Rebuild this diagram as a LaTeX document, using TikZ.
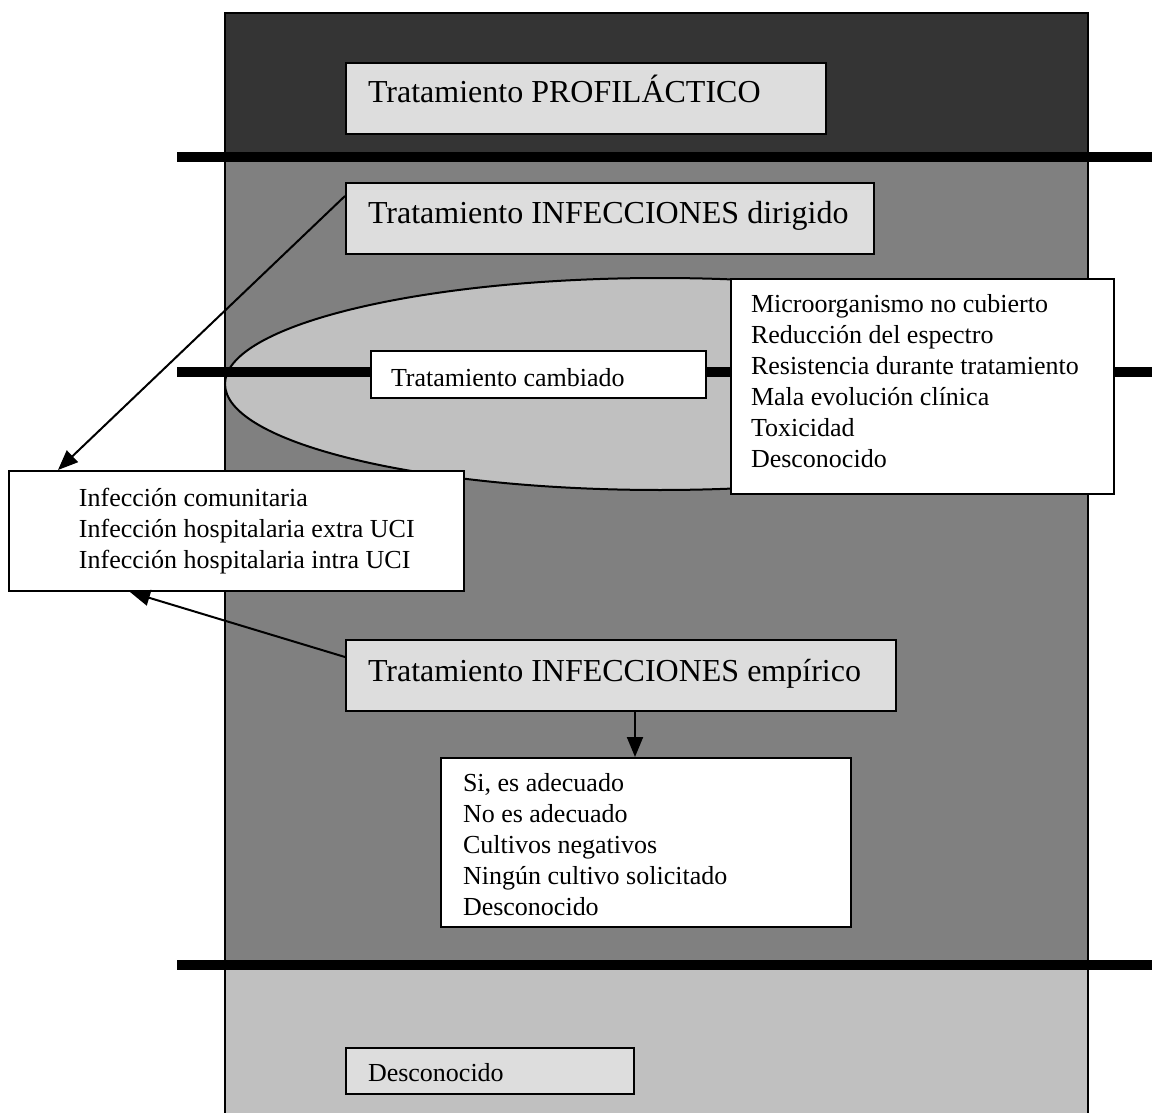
\documentclass[tikz,border=0pt]{standalone}
\usepackage{fontspec}
\setmainfont{Liberation Serif}
\usetikzlibrary{arrows.meta}

\definecolor{bandaosc}{HTML}{343434}
\definecolor{bandamed}{HTML}{808080}
\definecolor{bandacla}{HTML}{C0C0C0}
\definecolor{cajagris}{HTML}{DDDDDD}

\newcommand{\sangria}{\hspace*{70pt}}

\tikzset{
  caja/.style={draw, line width=2pt, anchor=north west, align=flush left, inner ysep=0pt},
  grande/.style={font=\fontsize{32}{36}\selectfont},
  lista/.style={font=\fontsize{26}{31}\selectfont},
  barra/.style={line width=10pt},
  flecha/.style={line width=2pt, -{Triangle[length=20pt,width=16pt]}}
}

\begin{document}
\begin{tikzpicture}[x=1pt,y=-1pt]
\useasboundingbox (0,0) rectangle (1152,1113);

% Bands
\fill[bandaosc] (225,13) rectangle (1088,157);
\fill[bandamed] (225,157) rectangle (1088,965);
\fill[bandacla] (225,965) rectangle (1088,1113);
\draw[line width=2pt] (225,1113) -- (225,13) -- (1088,13) -- (1088,1113);

\draw[barra] (177,157) -- (1152,157);
\draw[barra] (177,965) -- (1152,965);

% Changed treatment
\draw[line width=2pt, fill=bandacla] (660,384) ellipse [x radius=435pt, y radius=106pt];
\draw[barra] (177,372) -- (1152,372);

\node[caja, fill=cajagris, grande, text width=436pt, inner xsep=22pt, text height=40pt, text depth=31pt] (profi) at (345,62) {\mbox{Tratamiento PROFILÁCTICO}};
\node[caja, fill=cajagris, grande, text width=484pt, inner xsep=22pt, text height=40pt, text depth=31pt] (dirig) at (345,182) {\mbox{Tratamiento INFECCIONES dirigido}};
\node[caja, fill=white, lista, text width=295pt, inner xsep=20pt, text height=35pt, text depth=12pt] (cambio) at (370,350) {Tratamiento cambiado};
\node[caja, fill=white, lista, text width=343pt, inner xsep=20pt, text height=33pt, text depth=182pt] (motivo) at (730,278)
  {Microorganismo no cubierto\\Reducción del espectro\\Resistencia durante tratamiento\\Mala evolución clínica\\Toxicidad\\Desconocido};
\node[caja, fill=white, lista, text width=455pt, inner xsep=0pt, text height=35pt, text depth=85pt] (infec) at (8,470)
  {\sangria Infección comunitaria\\\sangria Infección hospitalaria extra UCI\\\sangria Infección hospitalaria intra UCI};
\node[caja, fill=cajagris, grande, text width=506pt, inner xsep=22pt, text height=41pt, text depth=30pt] (empir) at (345,639) {\mbox{Tratamiento INFECCIONES empírico}};
\node[caja, fill=white, lista, text width=366pt, inner xsep=22pt, text height=33pt, text depth=136pt] (adec) at (440,757)
  {Si, es adecuado\\No es adecuado\\Cultivos negativos\\Ningún cultivo solicitado\\Desconocido};
\node[caja, fill=cajagris, lista, text width=244pt, inner xsep=22pt, text height=33pt, text depth=13pt] (desc) at (345,1047) {Desconocido};

% Arrows
\draw[flecha] ([yshift=-14pt]dirig.north west) -- ([xshift=50pt]infec.north west);
\draw[flecha] ([yshift=-18pt]empir.north west) -- ([xshift=122pt]infec.south west);
\draw[flecha] ([xshift=290pt]empir.south west) -- ([xshift=290pt]empir.south west |- adec.north);

\end{tikzpicture}
\end{document}
